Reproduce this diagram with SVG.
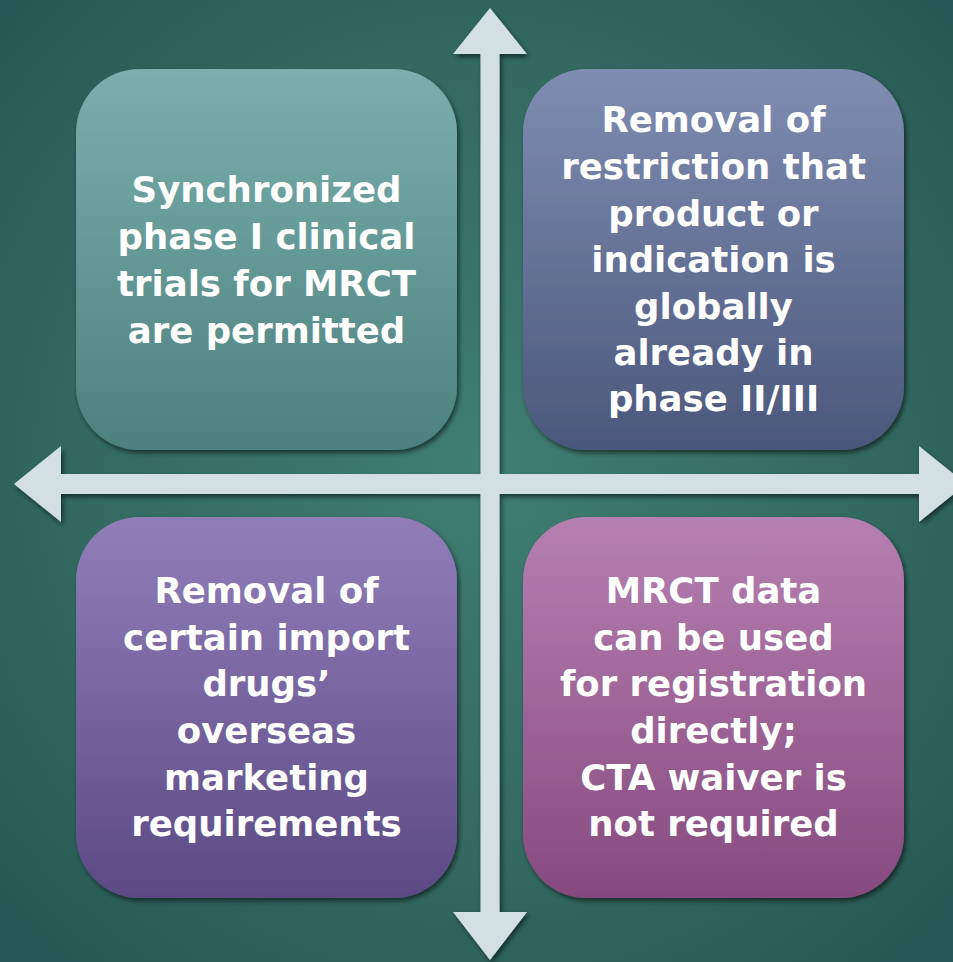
<svg xmlns="http://www.w3.org/2000/svg" width="953" height="962" viewBox="0 0 953 962">
  <defs>
    <radialGradient id="bg" cx="50%" cy="48%" r="72%">
      <stop offset="0" stop-color="#3f7e72"/>
      <stop offset="0.6" stop-color="#32685f"/>
      <stop offset="1" stop-color="#255553"/>
    </radialGradient>
    <linearGradient id="gTeal" x1="0" y1="0" x2="0" y2="1">
      <stop offset="0" stop-color="#7bafad"/>
      <stop offset="1" stop-color="#4c817e"/>
    </linearGradient>
    <linearGradient id="gBlue" x1="0" y1="0" x2="0" y2="1">
      <stop offset="0" stop-color="#808db2"/>
      <stop offset="1" stop-color="#4b577c"/>
    </linearGradient>
    <linearGradient id="gViolet" x1="0" y1="0" x2="0" y2="1">
      <stop offset="0" stop-color="#917eb9"/>
      <stop offset="1" stop-color="#5b4a84"/>
    </linearGradient>
    <linearGradient id="gPink" x1="0" y1="0" x2="0" y2="1">
      <stop offset="0" stop-color="#b680b1"/>
      <stop offset="1" stop-color="#864a7e"/>
    </linearGradient>
    <filter id="shadow" x="-10%" y="-10%" width="120%" height="120%">
      <feGaussianBlur in="SourceAlpha" stdDeviation="2.5"/>
      <feOffset dx="2" dy="3" result="b"/>
      <feComponentTransfer><feFuncA type="linear" slope="0.55"/></feComponentTransfer>
      <feMerge><feMergeNode/><feMergeNode in="SourceGraphic"/></feMerge>
    </filter>
    <style>
      .box { filter: url(#shadow); }
      .label { font-family: "DejaVu Sans", "Liberation Sans", sans-serif; font-weight: bold; font-size: 35.5px; fill: #ffffff; text-anchor: middle; }
      .axis { fill: #d3e0e1; filter: url(#shadow); }
    </style>
  </defs>

  <rect width="953" height="962" fill="url(#bg)"/>

  <!-- four-headed cross of axes -->
  <g id="connectors">
    <polygon class="axis" points="490,8 527,54 499.5,54 499.5,474 919,474 919,446 966,484 919,522 919,494 499.5,494 499.5,912 527,912 490,960 453,912 480.5,912 480.5,494 61,494 61,522 14,484 61,446 61,474 480.5,474 480.5,54 453,54"/>
  </g>

  <g id="node-top-left">
    <rect class="box" x="76" y="69" width="381" height="381" rx="63.5" fill="url(#gTeal)"/>
    <text class="label" x="266.5" y="202">Synchronized</text>
    <text class="label" x="266.5" y="249">phase I clinical</text>
    <text class="label" x="266.5" y="296">trials for MRCT</text>
    <text class="label" x="266.5" y="343">are permitted</text>
  </g>

  <g id="node-top-right">
    <rect class="box" x="523" y="69" width="381" height="381" rx="63.5" fill="url(#gBlue)"/>
    <text class="label" x="713.5" y="132">Removal of</text>
    <text class="label" x="713.5" y="179">restriction that</text>
    <text class="label" x="713.5" y="226">product or</text>
    <text class="label" x="713.5" y="272">indication is</text>
    <text class="label" x="713.5" y="319">globally</text>
    <text class="label" x="713.5" y="365">already in</text>
    <text class="label" x="713.5" y="411">phase II/III</text>
  </g>

  <g id="node-bottom-left">
    <rect class="box" x="76" y="517" width="381" height="381" rx="63.5" fill="url(#gViolet)"/>
    <text class="label" x="266.5" y="603">Removal of</text>
    <text class="label" x="266.5" y="650">certain import</text>
    <text class="label" x="266.5" y="696">drugs’</text>
    <text class="label" x="266.5" y="743">overseas</text>
    <text class="label" x="266.5" y="790">marketing</text>
    <text class="label" x="266.5" y="836">requirements</text>
  </g>

  <g id="node-bottom-right">
    <rect class="box" x="523" y="517" width="381" height="381" rx="63.5" fill="url(#gPink)"/>
    <text class="label" x="713.5" y="603">MRCT data</text>
    <text class="label" x="713.5" y="650">can be used</text>
    <text class="label" x="713.5" y="696">for registration</text>
    <text class="label" x="713.5" y="743">directly;</text>
    <text class="label" x="713.5" y="790">CTA waiver is</text>
    <text class="label" x="713.5" y="836">not required</text>
  </g>
</svg>
